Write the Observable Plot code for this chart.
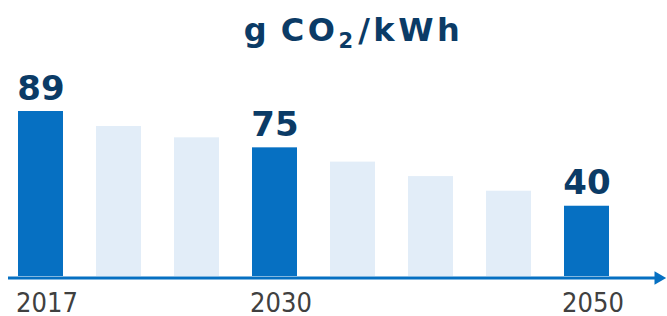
<!DOCTYPE html>
<html><head><meta charset="utf-8">
<script src="https://cdn.jsdelivr.net/npm/d3@7"></script>
<script src="https://cdn.jsdelivr.net/npm/@observablehq/plot@0.6"></script>
<style>
html,body{margin:0;padding:0;background:#fff;}
#title{position:relative;height:56px;width:667px;font-family:"DejaVu Sans";font-weight:bold;color:#0b3b66;}
#title .t{position:absolute;left:0;right:0;padding-left:40px;text-align:center;top:14px;font-size:32px;line-height:1;letter-spacing:3.5px;word-spacing:-4px;white-space:nowrap}
#title .sub{font-size:21px;position:relative;top:7px;letter-spacing:5px}
</style></head><body>
<div id="title"><span class="t">g CO<span class="sub">2</span>/kWh</span></div>
<div id="chart"></div>
<script>
const years = ["2017","2021","2026","2030","2035","2040","2045","2050"];
const barHeights = [89, 80.9, 74.8, 69.4, 61.7, 53.9, 46.0, 37.9];
const highlighted = [true,false,false,true,false,false,false,true];
const labelYears = ["2017","2030","2050"];
const labelValues = [89, 75, 40];

const bars = years.map((year,i)=>({year, h: barHeights[i], dark: highlighted[i]}));
const labels = labelYears.map((year,i)=>({year, text: String(labelValues[i]), h: barHeights[years.indexOf(year)]}));
const blue = "#0670c2";

const chart = Plot.plot({
  width: 667, height: 260,
  marginTop: 55, marginBottom: 40, marginLeft: 1, marginRight: 40.6,
  style: {fontFamily: "DejaVu Sans", background: "#fff"},
  x: {type: "band", domain: years, paddingInner: 0.42, paddingOuter: 0.21, axis: null},
  y: {domain: [0, 89], axis: null},
  marks: [
    Plot.barY(bars.filter(d => !d.dark), {x: "year", y: "h", fill: "#e2edf8"}),
    Plot.barY(bars.filter(d => d.dark), {x: "year", y: "h", fill: blue}),
    Plot.ruleY([0], {stroke: blue, strokeWidth: 3, insetLeft: 7, insetRight: -30, dy: 1.5}),
    Plot.dot([0], {y: d => d, frameAnchor: "right", dx: 31.5, dy: 1.5, symbol: "triangle", rotate: 90, r: 5, fill: blue, stroke: null}),
    Plot.text(labels, {x: "year", y: "h", text: "text", lineAnchor: "bottom", dy: -12, fontSize: 34, fontWeight: "bold", fill: "#0b3b66", fontFamily: "DejaVu Sans"}),
    Plot.axisX({tickSize: 0, tickPadding: 16, fontSize: 27, dx: 6, label: null, color: "#404040", fontFamily: "DejaVu Sans Condensed, DejaVu Sans", tickFormat: d => labelYears.includes(d) ? d : ""})
  ]
});
document.getElementById("chart").appendChild(chart);
</script>
</body></html>
